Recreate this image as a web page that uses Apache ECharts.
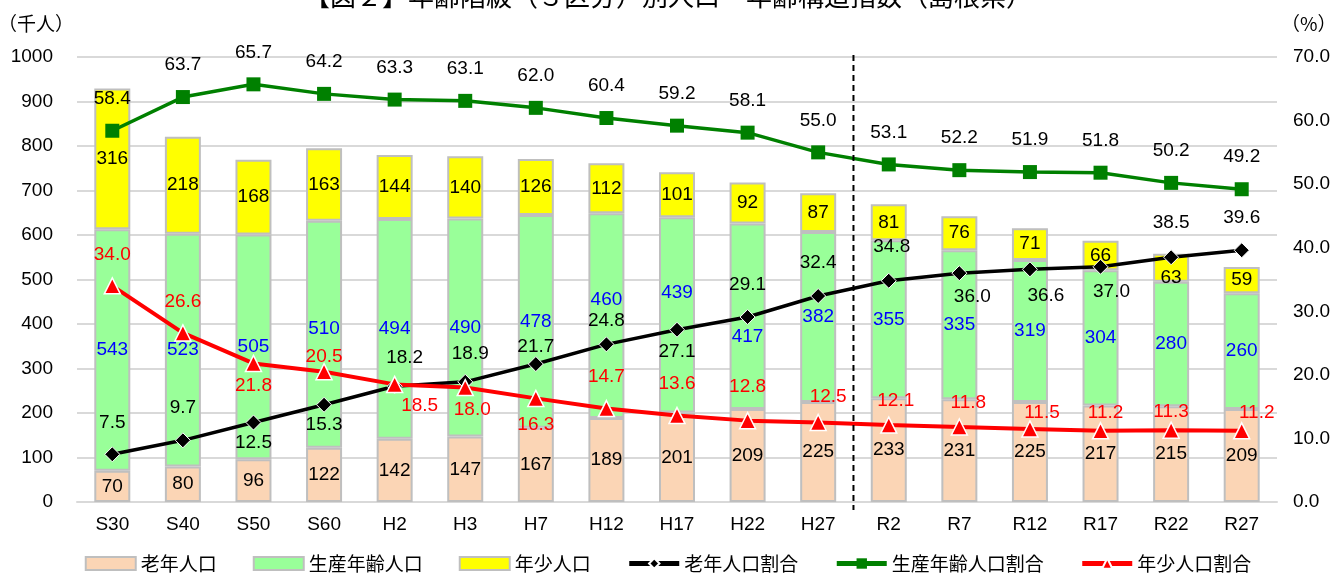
<!DOCTYPE html>
<html><head><meta charset="utf-8">
<script src="https://cdn.jsdelivr.net/npm/echarts@6/dist/echarts.min.js"></script>
<style>html,body{margin:0;padding:0;background:#fff}#c{width:1336px;height:578px}</style>
</head><body><div id="c"></div>
<script>
const categories = ['S30','S40','S50','S60','H2','H3','H7','H12','H17','H22','H27','R2','R7','R12','R17','R22','R27'];
const elderlyPop = [70,80,96,122,142,147,167,189,201,209,225,233,231,225,217,215,209];
const workingPop = [543,523,505,510,494,490,478,460,439,417,382,355,335,319,304,280,260];
const youthPop = [316,218,168,163,144,140,126,112,101,92,87,81,76,71,66,63,59];
const elderlyRatio = [7.5,9.7,12.5,15.3,18.2,18.9,21.7,24.8,27.1,29.1,32.4,34.8,36.0,36.6,37.0,38.5,39.6];
const workingRatio = [58.4,63.7,65.7,64.2,63.3,63.1,62.0,60.4,59.2,58.1,55.0,53.1,52.2,51.9,51.8,50.2,49.2];
const youthRatio = [34.0,26.6,21.8,20.5,18.5,18.0,16.3,14.7,13.6,12.8,12.5,12.1,11.8,11.5,11.2,11.3,11.2];
const leftTicks = [0,100,200,300,400,500,600,700,800,900,1000];
const rightTicks = [0,10,20,30,40,50,60,70];

// label offset styling (pixels), separate from data
const blackOff = [[0,-32],[0,-33],[0,20],[0,20],[10,-29],[5,-28],[0,-17],[0,-24],[0,22],[0,-32],[0,-33],[3,-34],[13,24],[16,26],[11,25],[0,-34],[0,-32]];
const redOff = [[0,-31],[0,-31],[0,22],[0,-15],[25,21],[7,22],[0,26],[0,-32],[0,-32],[0,-34],[10,-26],[7,-24],[9,-24],[12,-16],[5,-18],[0,-18],[15,-18]];
const blueOff = {7:-16, 8:-22, 9:21, 3:-5};
const yellowOff = {15:10};

const FONT = '"Liberation Sans", "Noto Sans CJK JP", sans-serif';
const CJK = '"Noto Sans CJK JP", sans-serif';
const FS = 19;
const chart = echarts.init(document.getElementById('c'), null, {renderer:'canvas'});

function withOffsets(vals, offs){
  return vals.map((v,i)=>({value:v, label:{offset:offs[i]}}));
}
function withDy(vals, map){
  return vals.map((v,i)=>map[i]!==undefined ? {value:v, label:{offset:[0,map[i]]}} : v);
}
const lblBase = {show:true, position:'inside', fontSize:FS, fontFamily:FONT};

const option = {
  animation:false,
  textStyle:{fontFamily:FONT},
  title:{text:'【図２】年齢階級（３区分）別人口・年齢構造指数（島根県）', left:'center', top:-17, padding:0,
    textStyle:{fontSize:26, fontWeight:'normal', color:'#000', fontFamily:CJK}},
  grid:{left:77, right:59, top:57, bottom:76, containLabel:false, outerBoundsMode:'none'},
  legend:{bottom:0, left:'center', itemGap:36, itemWidth:50, itemHeight:13,
    lineStyle:{width:5},
    textStyle:{fontSize:19, color:'#000', fontFamily:CJK},
    data:[
      {name:'老年人口', icon:'rect'},
      {name:'生産年齢人口', icon:'rect'},
      {name:'年少人口', icon:'rect'},
      '老年人口割合','生産年齢人口割合','年少人口割合'
    ]},
  xAxis:{type:'category', data:categories,
    axisLine:{lineStyle:{color:'#d9d9d9', width:2}}, axisTick:{show:false},
    axisLabel:{fontSize:FS, color:'#000', margin:13, fontFamily:FONT}},
  yAxis:[
    {type:'value', min:leftTicks[0], max:leftTicks[leftTicks.length-1], interval:100,
      name:'（千人）', nameLocation:'end', nameGap:24,
      nameTextStyle:{fontSize:19, color:'#000', align:'right', padding:[0,3,0,0], fontFamily:CJK},
      axisLine:{show:false}, axisTick:{show:false},
      axisLabel:{fontSize:FS, color:'#000', margin:24, fontFamily:FONT, formatter:v=>String(v)},
      splitLine:{lineStyle:{color:'#d9d9d9', width:2}}},
    {type:'value', min:rightTicks[0], max:rightTicks[rightTicks.length-1], interval:10,
      name:'（%）', nameLocation:'end', nameGap:24,
      nameTextStyle:{fontSize:19, color:'#000', align:'left', padding:[0,0,0,4], fontFamily:CJK},
      axisLine:{show:false}, axisTick:{show:false},
      axisLabel:{fontSize:FS, color:'#000', margin:16, fontFamily:FONT, formatter:v=>v.toFixed(1)},
      splitLine:{show:false}}
  ],
  series:[
    {name:'老年人口', type:'bar', stack:'pop', barWidth:36, data:elderlyPop,
      itemStyle:{color:'#FBD5B5', borderColor:'#BFBFBF', borderWidth:2},
      label:Object.assign({}, lblBase, {color:'#000'})},
    {name:'生産年齢人口', type:'bar', stack:'pop', barWidth:36, data:withDy(workingPop, blueOff),
      itemStyle:{color:'#99FF99', borderColor:'#BFBFBF', borderWidth:2},
      label:Object.assign({}, lblBase, {color:'#0000FF'})},
    {name:'年少人口', type:'bar', stack:'pop', barWidth:36, data:withDy(youthPop, yellowOff),
      itemStyle:{color:'#FFFF00', borderColor:'#BFBFBF', borderWidth:2},
      label:Object.assign({}, lblBase, {color:'#000'})},
    {name:'老年人口割合', type:'line', yAxisIndex:1, data:withOffsets(elderlyRatio, blackOff), z:5,
      lineStyle:{color:'#000', width:3.5}, itemStyle:{color:'#000', borderColor:'#fff', borderWidth:1},
      symbol:'diamond', symbolSize:15,
      label:Object.assign({}, lblBase, {color:'#000', formatter:p=>p.value.toFixed(1)})},
    {name:'生産年齢人口割合', type:'line', yAxisIndex:1, data:workingRatio, z:5,
      lineStyle:{color:'#008000', width:3.5}, itemStyle:{color:'#008000'},
      symbol:'rect', symbolSize:14,
      label:Object.assign({}, lblBase, {color:'#000', offset:[0,-32], formatter:p=>p.value.toFixed(1)})},
    {name:'年少人口割合', type:'line', yAxisIndex:1, data:withOffsets(youthRatio, redOff), z:5,
      lineStyle:{color:'#FF0000', width:4}, itemStyle:{color:'#FF0000', borderColor:'#fff', borderWidth:1.5},
      symbol:'triangle', symbolSize:16,
      label:Object.assign({}, lblBase, {color:'#FF0000', formatter:p=>p.value.toFixed(1)})}
  ]
};
chart.setOption(option);

// dashed divider between H27 and R2
const x1 = chart.convertToPixel({xAxisIndex:0}, 'H27');
const x2 = chart.convertToPixel({xAxisIndex:0}, 'R2');
const yTop = chart.convertToPixel({yAxisIndex:0}, 1000);
const yBot = chart.convertToPixel({yAxisIndex:0}, 0);
const xm = (x1 + x2) / 2;
chart.setOption({graphic:[{type:'line', z:10, shape:{x1:xm, y1:yTop-2, x2:xm, y2:yBot+8},
  style:{stroke:'#000', lineWidth:2, lineDash:[6,4]}}]});
</script>
</body></html>
